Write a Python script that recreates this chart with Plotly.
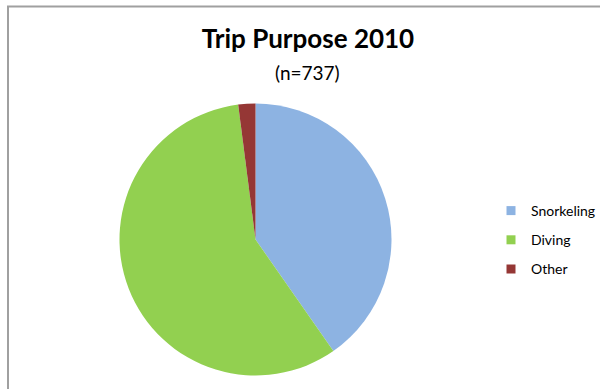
import plotly.graph_objects as go

categories = ["Snorkeling", "Diving", "Other"]
counts = [297, 425, 15]
colors = ["#8DB3E2", "#92D050", "#953735"]
title_text = "Trip Purpose 2010"
subtitle_text = "(n=737)"

W, H = 600, 389
cx, cy, r = 255.5, 239.5, 136

fig = go.Figure()
fig.add_trace(go.Pie(
    labels=categories, values=counts, sort=False, direction="clockwise",
    rotation=0, textinfo="none", hoverinfo="label+value+percent",
    marker=dict(colors=colors, line=dict(width=0)),
    showlegend=False,
    domain=dict(x=[(cx - r) / W, (cx + r) / W],
                y=[(H - cy - r) / H, (H - cy + r) / H]),
))
# legend entries
for name, col in zip(categories, colors):
    fig.add_trace(go.Scatter(
        x=[None], y=[None], mode="markers", name=name, legendgroup=name,
        marker=dict(symbol="square", size=9, color=col),
        showlegend=True, hoverinfo="skip",
    ))

fig.update_layout(
    width=W, height=H,
    margin=dict(l=0, r=0, t=0, b=0, autoexpand=False),
    paper_bgcolor="white", plot_bgcolor="white",
    font=dict(family="Lato, Carlito, sans-serif", color="#000000"),
    xaxis=dict(visible=False), yaxis=dict(visible=False),
    title=dict(text="<b>" + title_text + "</b>", x=308 / W, xanchor="center",
               y=1 - 39 / H, yanchor="middle",
               font=dict(size=26, color="#000000")),
    annotations=[dict(text=subtitle_text, x=307 / W, y=1 - 72 / H,
                      xref="paper", yref="paper", xanchor="center",
                      yanchor="middle", showarrow=False,
                      font=dict(size=19, color="#000000"))],
    legend=dict(x=491 / W, y=1 - 195 / H, xanchor="left", yanchor="top",
                font=dict(size=14, color="#000000"), tracegroupgap=8,
                itemwidth=30, bgcolor="rgba(0,0,0,0)"),
    shapes=[dict(type="rect", xref="paper", yref="paper",
                 x0=8 / W, x1=1.05, y0=-0.05, y1=1 - 6.5 / H,
                 line=dict(color="#A0A0A0", width=2), layer="above")],
)
fig.write_html("out.html")
